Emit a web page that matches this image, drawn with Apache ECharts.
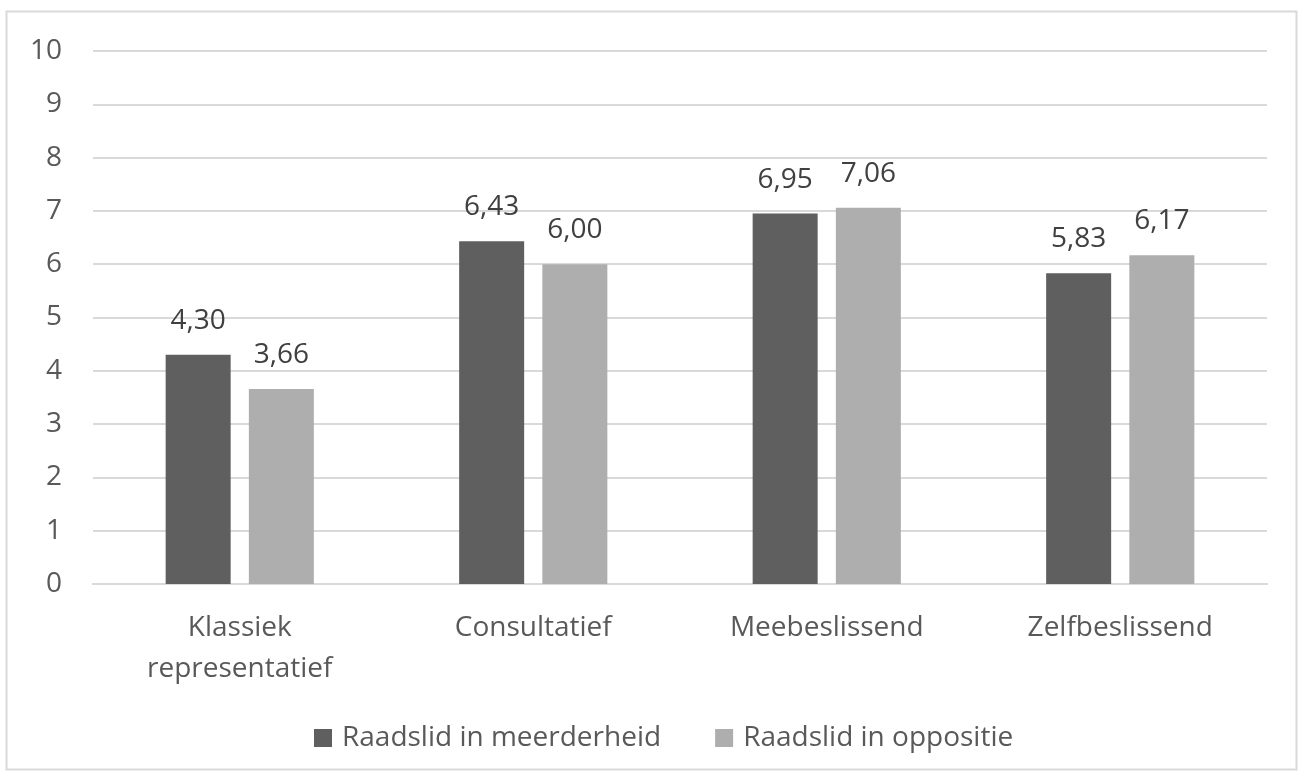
<!DOCTYPE html>
<html><head><meta charset="utf-8">
<script src="https://cdn.jsdelivr.net/npm/echarts@6/dist/echarts.min.js"></script>
<style>html,body{margin:0;padding:0;background:#fff}#c{width:1304px;height:781px}</style>
</head><body><div id="c"></div>
<script>
const categories = ['Klassiek\nrepresentatief', 'Consultatief', 'Meebeslissend', 'Zelfbeslissend'];
const seriesNames = ['Raadslid in meerderheid', 'Raadslid in oppositie'];
const meerderheid = [4.30, 6.43, 6.95, 5.83];
const oppositie = [3.66, 6.00, 7.06, 6.17];
const yTicks = [0, 10, 1];

const font = 'Open Sans';
const fs = 28;
const chart = echarts.init(document.getElementById('c'), null, {renderer: 'canvas'});
const labelFmt = p => p.value.toFixed(2).replace('.', ',');
chart.setOption({
  animation: false,
  textStyle: {fontFamily: font},
  graphic: [{type: 'rect', shape: {x: 6.5, y: 11.5, width: 1290, height: 758}, style: {fill: 'none', stroke: '#d9d9d9', lineWidth: 2}, silent: true}],
  grid: {left: 93, right: 37, top: 51, bottom: 197, containLabel: false},
  legend: {
    data: seriesNames, top: 719, left: 309, itemWidth: 18, itemHeight: 18, itemGap: 54,
    icon: 'rect', textStyle: {fontFamily: font, fontSize: fs, color: '#595959', padding: [0, 0, 0, 5]}
  },
  xAxis: {
    type: 'category', data: categories,
    axisLine: {lineStyle: {color: '#d9d9d9', width: 2}}, axisTick: {show: false},
    axisLabel: {fontFamily: font, fontSize: fs, color: '#595959', lineHeight: 41, margin: 24}
  },
  yAxis: {
    type: 'value', min: yTicks[0], max: yTicks[1], interval: yTicks[2],
    axisLine: {show: false}, axisTick: {show: false},
    splitLine: {lineStyle: {color: '#d9d9d9', width: 2}},
    axisLabel: {fontFamily: font, fontSize: fs, color: '#595959', margin: 31}
  },
  series: [
    {name: seriesNames[0], type: 'bar', data: meerderheid, barWidth: 65, barGap: '28%',
     itemStyle: {color: '#5f5f5f'},
     label: {show: true, position: 'top', distance: 20, formatter: labelFmt, fontFamily: font, fontSize: fs, color: '#404040'}},
    {name: seriesNames[1], type: 'bar', data: oppositie, barWidth: 65,
     itemStyle: {color: '#aeaeae'},
     label: {show: true, position: 'top', distance: 20, formatter: labelFmt, fontFamily: font, fontSize: fs, color: '#404040'}}
  ]
});
</script></body></html>
